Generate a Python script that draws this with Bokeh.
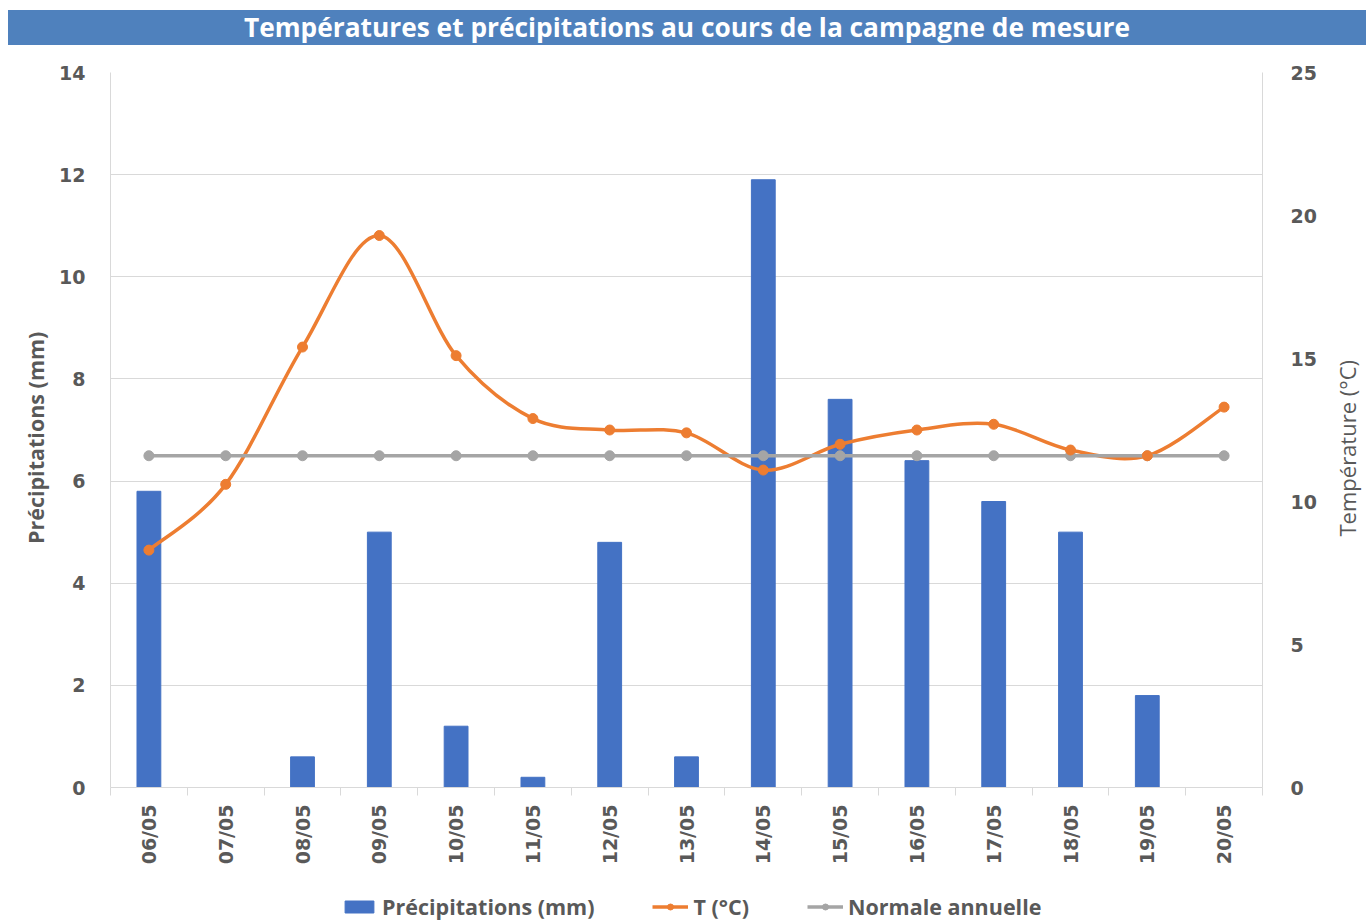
import math
from bokeh.plotting import figure
from bokeh.models import (Range1d, LinearAxis, FixedTicker, Legend, LegendItem, Div, Label)
from bokeh.layouts import column, row
from bokeh.embed import file_html
from bokeh.resources import INLINE

dates = ["06/05", "07/05", "08/05", "09/05", "10/05", "11/05", "12/05", "13/05",
         "14/05", "15/05", "16/05", "17/05", "18/05", "19/05", "20/05"]
precip = [5.8, 0.0, 0.6, 5.0, 1.2, 0.2, 4.8, 0.6, 11.9, 7.6, 6.4, 5.6, 5.0, 1.8, 0.0]
temp = [8.3, 10.6, 15.4, 19.3, 15.1, 12.9, 12.5, 12.4, 11.1, 12.0, 12.5, 12.7, 11.8, 11.6, 13.3]
normale = [11.6] * 15

TXT = "#595959"
GRID = "#D9D9D9"
BLUE = "#4472C4"
ORANGE = "#ED7D31"
GREY = "#A5A5A5"

xs = list(range(1, len(dates) + 1))
H = 822

title = Div(
    text="Températures et précipitations au cours de la campagne de mesure",
    width=1358, height=35, margin=(10, 0, 0, 8),
    styles={"background-color": "#4F81BD", "color": "white", "font-family": "Open Sans",
            "font-weight": "bold", "font-size": "26.3px", "text-align": "center",
            "line-height": "35px", "width": "1358px", "height": "35px", "overflow": "hidden"},
)


def strip(w, h):
    f = figure(width=w, height=h, output_backend="svg", toolbar_location=None,
               x_range=Range1d(0, w), y_range=Range1d(0, h),
               x_axis_location=None, y_axis_location=None, min_border=0)
    f.outline_line_color = None
    f.xgrid.visible = False
    f.ygrid.visible = False
    return f


# side strips holding the axis titles
left_strip = strip(56, H)
left_strip.add_layout(Label(x=35, y=402, text="Précipitations (mm)", angle=math.pi / 2,
                            text_align="center", text_baseline="middle",
                            text_font="Open Sans", text_font_style="bold",
                            text_font_size="21.5px", text_color=TXT))
right_strip = strip(40, H)
right_strip.add_layout(Label(x=20, y=390, text="Température (°C)", angle=math.pi / 2,
                             text_align="center", text_baseline="middle",
                             text_font="Open Sans", text_font_style="normal",
                             text_font_size="22px", text_color=TXT))

p = figure(width=1270, height=H, output_backend="svg", toolbar_location=None,
           x_range=Range1d(0.5, 15.5), y_range=Range1d(0, 14),
           min_border_left=54, min_border_right=64, min_border_top=27, min_border_bottom=80)
p.outline_line_color = None
p.extra_y_ranges = {"temp": Range1d(0, 25)}

p.vbar(x=xs, top=precip, width=0.31, color=BLUE)


# smooth temperature curve (Catmull-Rom -> Bezier through the data points)
def smooth_segments(xv, yv):
    n = len(xv)
    out = {k: [] for k in ("x0", "y0", "x1", "y1", "cx0", "cy0", "cx1", "cy1")}
    for i in range(n - 1):
        a, b = max(i - 1, 0), i
        c, d = i + 1, min(i + 2, n - 1)
        out["x0"].append(xv[b]); out["y0"].append(yv[b])
        out["x1"].append(xv[c]); out["y1"].append(yv[c])
        out["cx0"].append(xv[b] + (xv[c] - xv[a]) / 6); out["cy0"].append(yv[b] + (yv[c] - yv[a]) / 6)
        out["cx1"].append(xv[c] - (xv[d] - xv[b]) / 6); out["cy1"].append(yv[c] - (yv[d] - yv[b]) / 6)
    return out


p.bezier(**smooth_segments(xs, temp), line_color=ORANGE, line_width=3.5, y_range_name="temp")
p.line(xs, normale, line_color=GREY, line_width=3.5, y_range_name="temp")
p.scatter(xs, normale, size=10, color=GREY, y_range_name="temp")
p.scatter(xs, temp, size=10, color=ORANGE, y_range_name="temp")

# x axis
xa = p.xaxis[0]
xa.ticker = FixedTicker(ticks=xs, minor_ticks=[x - 0.5 for x in xs] + [xs[-1] + 0.5])
xa.major_label_overrides = {x: d for x, d in zip(xs, dates)}
xa.major_label_orientation = math.pi / 2
xa.major_tick_out = 0
xa.major_tick_in = 0
xa.minor_tick_out = 8
xa.minor_tick_in = 0
xa.minor_tick_line_color = GRID
xa.axis_line_color = GRID
xa.major_label_standoff = 9
xa.major_label_text_font = "DejaVu Sans"
xa.major_label_text_font_style = "bold"
xa.major_label_text_font_size = "19px"
xa.major_label_text_color = TXT

# left axis
ya = p.yaxis[0]
ya.ticker = FixedTicker(ticks=[0, 2, 4, 6, 8, 10, 12, 14])
ya.major_tick_out = 0
ya.major_tick_in = 0
ya.minor_tick_line_color = None
ya.axis_line_color = GRID
ya.major_label_standoff = 25
ya.major_label_text_font = "DejaVu Sans"
ya.major_label_text_font_style = "bold"
ya.major_label_text_font_size = "19px"
ya.major_label_text_color = TXT

# right axis
ra = LinearAxis(y_range_name="temp", ticker=FixedTicker(ticks=[0, 5, 10, 15, 20, 25]))
ra.major_tick_out = 0
ra.major_tick_in = 0
ra.minor_tick_line_color = None
ra.axis_line_color = GRID
ra.major_label_standoff = 28
ra.major_label_text_font = "DejaVu Sans"
ra.major_label_text_font_style = "bold"
ra.major_label_text_font_size = "19px"
ra.major_label_text_color = TXT
p.add_layout(ra, "right")

p.xgrid.visible = False
p.ygrid.grid_line_color = GRID
p.ygrid.ticker = FixedTicker(ticks=[0, 2, 4, 6, 8, 10, 12, 14])

# legend strip
lf = figure(width=1366, height=54, output_backend="svg", toolbar_location=None,
            x_range=Range1d(100, 101), y_range=Range1d(100, 101),
            x_axis_location=None, y_axis_location=None, min_border=0)
lf.outline_line_color = None
lf.xgrid.visible = False
lf.ygrid.visible = False
lb = lf.vbar(x=xs, top=precip, width=0.31, color=BLUE)
lt_line = lf.line(xs, temp, line_color=ORANGE, line_width=3.5)
lt_pts = lf.scatter(xs, temp, size=10, color=ORANGE)
ln_line = lf.line(xs, normale, line_color=GREY, line_width=3.5)
ln_pts = lf.scatter(xs, normale, size=10, color=GREY)

legend = Legend(items=[
    LegendItem(label="Précipitations (mm)", renderers=[lb]),
    LegendItem(label="T (°C)", renderers=[lt_line, lt_pts]),
    LegendItem(label="Normale annuelle", renderers=[ln_line, ln_pts]),
], orientation="horizontal", location=(341, 0), padding=0, margin=0, spacing=58,
    glyph_width=36, glyph_height=15, label_height=22, label_standoff=5,
    label_text_font="Open Sans", label_text_font_style="bold", label_text_font_size="21.5px",
    label_text_color=TXT, border_line_color=None, background_fill_alpha=0)
lf.add_layout(legend, "center")

layout = column(title, row(left_strip, p, right_strip, spacing=0), lf, spacing=0)
open("out.html", "w").write(file_html(layout, INLINE))
